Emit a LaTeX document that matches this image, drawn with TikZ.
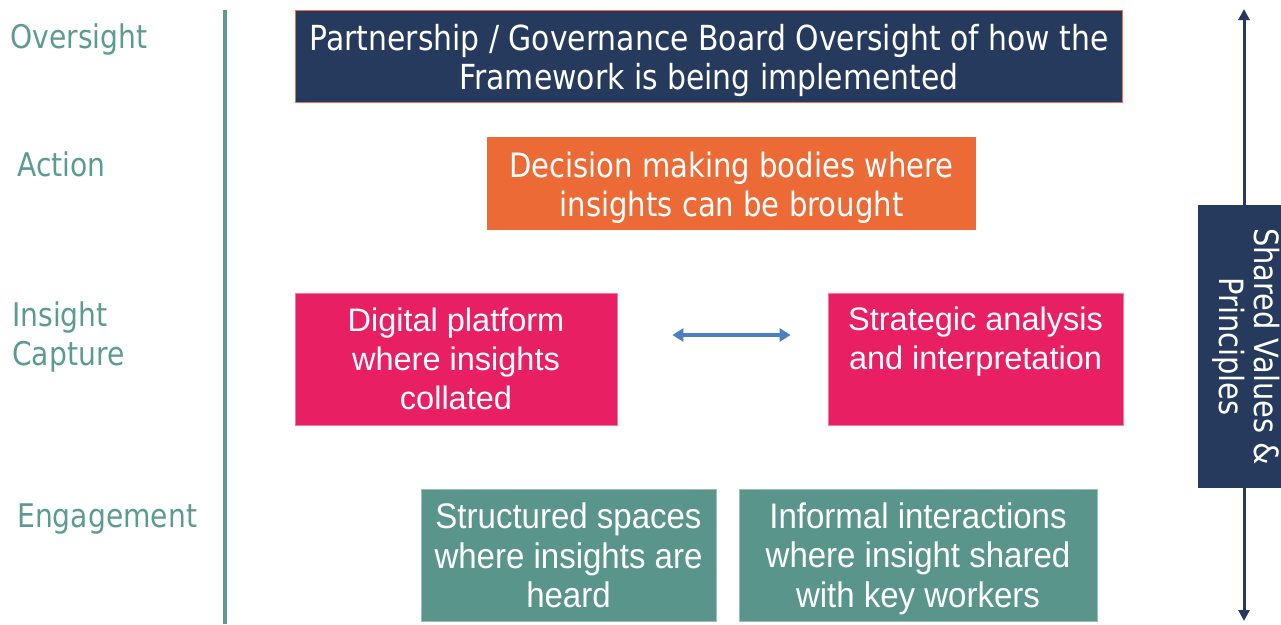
\documentclass[tikz,border=0pt]{standalone}
\usepackage{fontspec}
\usetikzlibrary{arrows.meta}
\newfontfamily\tahfont[FakeStretch=0.865]{DejaVu Sans}
\newfontfamily\arifont{Liberation Sans}
\newfontfamily\arinarrowfont[FakeStretch=0.93]{Liberation Sans}
\definecolor{navy}{HTML}{263A5E}
\definecolor{orangebox}{HTML}{EB6A35}
\definecolor{pinkbox}{HTML}{E82063}
\definecolor{tealbox}{HTML}{5A958B}
\definecolor{teallabel}{HTML}{5B9B92}
\definecolor{tealline}{HTML}{5E9A92}
\definecolor{bluearrow}{HTML}{4A7FC0}
\definecolor{orangeedge}{HTML}{E8734A}
\tikzset{
  lab/.style={anchor=base west, text=teallabel, inner sep=0pt, font=\tahfont\fontsize{32.6}{39}\selectfont},
  boxbase/.style={inner sep=0pt, text=white, align=center},
  tahtext/.style={font=\tahfont\fontsize{33.6}{39}\selectfont},
  aritext/.style={font=\arifont\fontsize{32.5}{39}\selectfont},
  arintext/.style={font=\arinarrowfont\fontsize{35.5}{39.5}\selectfont},
}
\begin{document}
\begin{tikzpicture}[x=1pt,y=-1pt]
\useasboundingbox (0,0) rectangle (1281,624);
% left teal rule
\coordinate (ltop) at (225,10);
\coordinate (lbot) at (225,624);
\draw[tealline, line width=3.5pt] (ltop) -- (lbot);
% labels
\node[lab] (lov) at (10,48) {Oversight};
\node[lab] (lac) at (17,176) {Action};
\node[lab] (lin) at (12,326) {Insight};
\node[lab] (lca) at (12,365) {Capture};
\node[lab] (len) at (17,527) {Engagement};
% top box
\node[boxbase, fill=navy, draw=orangeedge, line width=1.5pt, minimum width=827pt, minimum height=92pt] (top) at (709,56.5) {};
\node[boxbase, font=\tahfont\fontsize{34.5}{39}\selectfont] (toptext) at (709,60.5) {Partnership / Governance Board Oversight of how the\\Framework is being implemented};
% orange box
\node[boxbase, fill=orangebox, minimum width=489pt, minimum height=93pt] (act) at (731.5,183.5) {};
\node[boxbase, tahtext] (acttext) at (731.5,187.5) {Decision making bodies where\\insights can be brought};
% pink boxes
\node[boxbase, fill=pinkbox, draw=pinkbox!60!white, line width=0.8pt, minimum width=322pt, minimum height=132pt] (pl) at (456,359) {};
\node[boxbase, aritext] (pltext) at (456,359) {Digital platform\\where insights\\collated};
\node[boxbase, fill=pinkbox, draw=pinkbox!60!white, line width=0.8pt, minimum width=295pt, minimum height=132pt] (pr) at (975.5,359) {};
\node[boxbase, aritext] (prtext) at (975.5,342) {Strategic analysis\\and interpretation};
\draw[bluearrow, line width=3.5pt, {Triangle[width=13pt,length=11pt]}-{Triangle[width=13pt,length=11pt]}, shorten <=55pt, shorten >=37pt] ([yshift=24pt]pl.east) -- ([yshift=24pt]pr.west);
% teal boxes
\node[boxbase, fill=tealbox, draw=tealbox!60!white, line width=0.8pt, minimum width=295pt, minimum height=132pt] (gl) at (568.5,555) {};
\node[boxbase, arintext] (gltext) at (568.5,555.5) {Structured spaces\\where insights are\\heard};
\node[boxbase, fill=tealbox, draw=tealbox!60!white, line width=0.8pt, minimum width=358pt, minimum height=132pt] (gr) at (918,555) {};
\node[boxbase, arintext] (grtext) at (918,558.5) {Informal interactions\\where insight shared\\with key workers};
% right arrow and shared values box
\coordinate (atop) at (1244,9);
\coordinate (abot) at (1244,621);
\draw[navy, line width=3pt, {Triangle[width=11pt,length=11pt]}-{Triangle[width=11pt,length=11pt]}] (atop) -- (abot);
\node[boxbase, fill=navy, minimum width=83pt, minimum height=283pt] (sv) at (1239.5,346.5) {};
\node[boxbase, rotate=-90, font=\tahfont\fontsize{33.4}{35}\selectfont] (svtext) at (1246,346.5) {Shared Values \&\\Principles};
\end{tikzpicture}
\end{document}
